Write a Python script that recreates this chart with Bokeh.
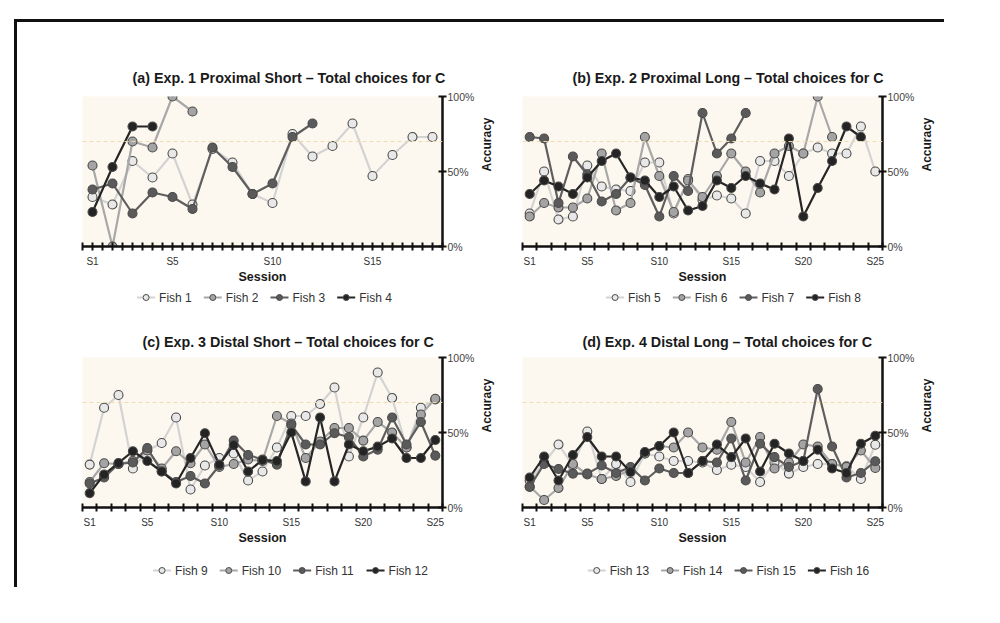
import math
from bokeh.plotting import figure
from bokeh.models import Range1d, FixedTicker, Span
from bokeh.core.properties import value
from bokeh.layouts import column, row
from bokeh.embed import file_html
from bokeh.resources import INLINE

# ---------------- data ----------------
titles = [
    "(a) Exp. 1 Proximal Short \u2013 Total choices for C",
    "(b) Exp. 2 Proximal Long \u2013 Total choices for C",
    "(c) Exp. 3 Distal Short \u2013 Total choices for C",
    "(d) Exp. 4 Distal Long \u2013 Total choices for C",
]
n_sessions = [18, 25, 25, 25]
x_tick_sessions = [[1, 5, 10, 15], [1, 5, 10, 15, 20, 25], [1, 5, 10, 15, 20, 25], [1, 5, 10, 15, 20, 25]]
y_ticks = [0, 50, 100]
y_tick_labels = ["0%", "50%", "100%"]
threshold = 70

names_a = ["Fish 1", "Fish 2", "Fish 3", "Fish 4"]
fish1 = [33, 28, 57, 46, 62, 28, 65, 56, 35, 29, 75, 60, 67, 82, 47, 61, 73, 73]
fish2 = [54, 0, 70, 66, 100, 90]
fish3 = [38, 42, 22, 36, 33, 25, 66, 53, 35, 42, 73, 82]
fish4 = [23, 53, 80, 80]

names_b = ["Fish 5", "Fish 6", "Fish 7", "Fish 8"]
fish5 = [22, 50, 18, 20, 54, 40, 38, 37, 56, 56, 22, 45, 31, 34, 32, 22, 57, 57, 47, 62, 66, 62, 62, 80, 50]
fish6 = [20, 29, 26, 26, 32, 62, 24, 29, 73, 47, 23, 44, 33, 47, 62, 50, 36, 62, 67, 62, 100, 73]
fish7 = [73, 72, 29, 60, 48, 30, 35, 46, 41, 20, 47, 37, 89, 62, 72, 89]
fish8 = [35, 44, 40, 35, 46, 57, 62, 46, 44, 33, 40, 24, 27, 44, 39, 47, 42, 38, 72, 20, 39, 57, 80, 73]

names_c = ["Fish 9", "Fish 10", "Fish 11", "Fish 12"]
fish9 = [28.6, 66.5, 75, 26, 38, 43, 60, 12, 28, 33, 36, 18, 24, 40, 61, 61, 69, 80, 34, 60, 90, 73, 40, 66.5, 72]
fish10 = [17, 29.5, 29, 31, 38, 26, 37.5, 29.5, 42, 27, 29, 32, 31, 61, 56, 33, 44, 53, 53, 44.6, 57, 50, 40, 62, 72.5]
fish11 = [16, 20, 29, 30, 39.7, 24, 17, 21, 16, 28, 44.6, 35, 32, 28.6, 55, 42, 42, 49.5, 47, 34, 38.6, 60, 42, 57, 34.6]
fish12 = [9.6, 22, 29.7, 37.5, 31, 24, 16, 33, 49.5, 28.6, 41.7, 24, 31.7, 31, 50, 17.4, 60, 17.4, 42, 37.5, 40.6, 46, 33, 33, 45]

names_d = ["Fish 13", "Fish 14", "Fish 15", "Fish 16"]
fish13 = [18, 30, 42, 28, 50.7, 19, 29, 17, 36, 34, 31, 31, 30, 25, 28.5, 27, 17, 30, 22.6, 27, 29, 29, 27.4, 19, 41.8]
fish14 = [14, 5, 13, 29, 22, 19, 21, 25, 36, 41, 40, 50, 40, 38.5, 57, 30, 47, 26, 30, 42, 40.7, 29, 27, 38, 26.3]
fish15 = [13.7, 29, 25.7, 22.6, 22.6, 28, 23, 27, 18, 26, 23, 23, 31, 30, 46, 18, 42.5, 33.6, 27, 31, 79, 40.7, 20, 23, 30.8]
fish16 = [20, 34, 18, 35, 47, 34, 34, 23.7, 37, 41, 50, 23, 31, 42, 33.6, 46, 24, 42.5, 36, 31, 38.5, 26, 23, 42.5, 47.8]

panels_series = [
    (names_a, [fish1, fish2, fish3, fish4]),
    (names_b, [fish5, fish6, fish7, fish8]),
    (names_c, [fish9, fish10, fish11, fish12]),
    (names_d, [fish13, fish14, fish15, fish16]),
]

# ---------------- style ----------------
LINE_COLORS = ["#d3d3d3", "#a8a8a8", "#5e5e5e", "#262626"]
FILL_COLORS = ["#e8e8e8", "#a4a4a4", "#5a5a5a", "#242424"]
FONT = "Liberation Sans"
BG = "#fdf8ef"
FRAME_W, FRAME_H, RIGHT_B = 360, 150, 60


def make_panel(idx, left_border, top_border, title_standoff, title_offset):
    names, series = panels_series[idx]
    n = n_sessions[idx]
    p = figure(frame_width=FRAME_W, frame_height=FRAME_H,
               x_range=Range1d(0.5, n + 0.5), y_range=Range1d(0, 100),
               y_axis_location="right", output_backend="svg", toolbar_location=None,
               min_border_left=left_border, min_border_right=RIGHT_B,
               min_border_top=top_border, min_border_bottom=36)
    p.background_fill_color = BG
    p.border_fill_color = "white"
    p.outline_line_color = None
    p.grid.visible = False

    p.title.text = titles[idx]
    p.title.align = "left"
    p.title.offset = title_offset
    p.title.text_font = FONT
    p.title.text_font_size = "14.3px"
    p.title.text_font_style = "bold"
    p.title.text_color = "#1a1a1a"
    p.title.standoff = title_standoff

    p.add_layout(Span(location=threshold, dimension="width", line_color="#eedcb0",
                      line_dash="4 3", line_width=1))

    for k, vals in enumerate(series):
        xs = list(range(1, len(vals) + 1))
        p.line(xs, vals, line_color=LINE_COLORS[k], line_width=2.2)
        p.scatter(xs, vals, size=9, fill_color=FILL_COLORS[k], line_color="#4a4a4a",
                  line_width=1.1)

    # x axis
    if n == 18:
        minor = [0.5 + 0.5 * i for i in range(2 * n + 1)]
    else:
        minor = [0.5 + i for i in range(n + 1)]
    xa = p.xaxis[0]
    xa.ticker = FixedTicker(ticks=x_tick_sessions[idx], minor_ticks=minor)
    xa.major_label_overrides = {s: "S%d" % s for s in x_tick_sessions[idx]}
    xa.axis_line_width = 2.5
    xa.axis_line_color = "#111111"
    xa.major_tick_in = 0
    xa.major_tick_out = 0
    xa.minor_tick_in = 4
    xa.minor_tick_out = 4
    xa.minor_tick_line_width = 2
    xa.minor_tick_line_color = "#111111"
    xa.major_label_text_font = FONT
    xa.major_label_text_font_size = "10px"
    xa.major_label_text_color = "#333333"
    xa.major_label_standoff = 5
    xa.axis_label = "Session"
    xa.axis_label_text_font = FONT
    xa.axis_label_text_font_size = "12.5px"
    xa.axis_label_text_font_style = "bold"
    xa.axis_label_text_color = "#1a1a1a"
    xa.axis_label_standoff = 0

    # y axis (right)
    ya = p.yaxis[0]
    ya.ticker = FixedTicker(ticks=y_ticks, minor_ticks=[])
    ya.major_label_overrides = dict(zip(y_ticks, y_tick_labels))
    ya.axis_line_width = 2.5
    ya.axis_line_color = "#111111"
    ya.major_tick_in = 4
    ya.major_tick_out = 4
    ya.major_tick_line_width = 2
    ya.major_tick_line_color = "#111111"
    ya.minor_tick_in = 0
    ya.minor_tick_out = 0
    ya.major_label_text_font = FONT
    ya.major_label_text_font_size = "10.5px"
    ya.major_label_text_color = "#444444"
    ya.major_label_standoff = 1
    ya.axis_label = "Accuracy"
    ya.axis_label_text_font = FONT
    ya.axis_label_text_font_size = "12px"
    ya.axis_label_text_font_style = "bold"
    ya.axis_label_text_color = "#1a1a1a"
    ya.axis_label_standoff = 10
    ya.axis_label_orientation = math.pi / 2
    return p


def make_legend(idx, fig_width, height, center_x, center_y_from_top):
    """Legend strip drawn as its own small figure (line + marker + label per fish)."""
    names, _ = panels_series[idx]
    p = figure(frame_width=fig_width, frame_height=height,
               x_range=Range1d(0, fig_width), y_range=Range1d(0, height),
               x_axis_location=None, y_axis_location=None,
               output_backend="svg", toolbar_location=None,
               min_border_left=0, min_border_right=0, min_border_top=0, min_border_bottom=0)
    p.outline_line_color = None
    p.grid.visible = False
    p.background_fill_color = "white"
    p.border_fill_color = "white"

    glyph_w, gap, spacing = 18, 4, 12
    widths = [glyph_w + gap + (26 + 6.7 * (len(nm) - 5)) for nm in names]
    total = sum(widths) + spacing * (len(names) - 1)
    x0 = center_x - total / 2.0
    yc = height - center_y_from_top
    for k, nm in enumerate(names):
        p.segment(x0=[x0], y0=[yc], x1=[x0 + glyph_w], y1=[yc],
                  line_color=LINE_COLORS[k], line_width=2.2)
        p.scatter(x=[x0 + glyph_w / 2.0], y=[yc], size=6, fill_color=FILL_COLORS[k],
                  line_color="#4a4a4a", line_width=1)
        p.text(x=[x0 + glyph_w + gap], y=[yc], text=[nm], text_font=value(FONT),
               text_font_size="12px", text_color="#333333",
               text_baseline="middle", text_align="left")
        x0 += widths[k] + spacing
    return p


LEFT_A, LEFT_B = 65, 18
pa = make_panel(0, LEFT_A, 74, 22, 50)
pb = make_panel(1, LEFT_B, 74, 22, 50)
pc = make_panel(2, LEFT_A, 47, 15, 60)
pd = make_panel(3, LEFT_B, 47, 15, 60)

WA = LEFT_A + FRAME_W + RIGHT_B
WB = LEFT_B + FRAME_W + RIGHT_B
la = make_legend(0, WA, 24, LEFT_A + FRAME_W / 2 + 2, 11)
lb = make_legend(1, WB, 24, LEFT_B + FRAME_W / 2 + 33, 11)
lc = make_legend(2, WA, 40, LEFT_A + FRAME_W / 2 + 28, 23)
ld = make_legend(3, WB, 40, LEFT_B + FRAME_W / 2 + 28, 23)

layout = column(row(pa, pb), row(la, lb), row(pc, pd), row(lc, ld),
                styles={"margin-left": "14px", "margin-top": "19px",
                        "border-left": "3px solid #111111", "border-top": "3px solid #111111"})

open("out.html", "w").write(file_html(layout, INLINE))
